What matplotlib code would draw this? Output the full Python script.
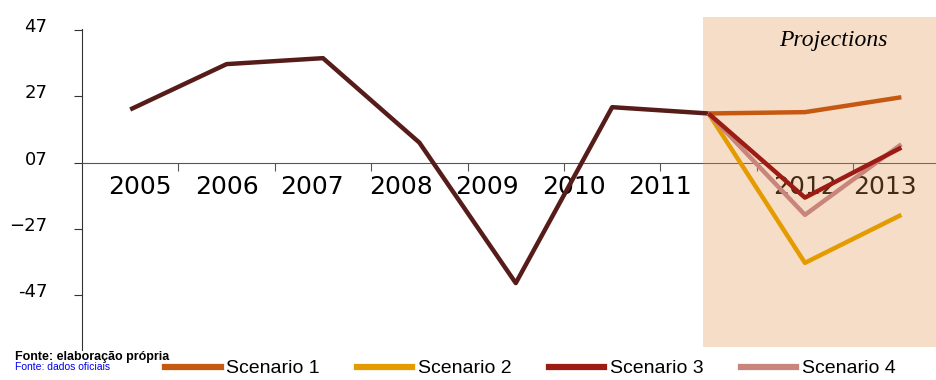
import matplotlib
matplotlib.use("Agg")
import matplotlib.pyplot as plt
import matplotlib.transforms as mtransforms
from matplotlib.patches import Rectangle

# ---------------------------------------------------------------------------
# Data
# ---------------------------------------------------------------------------
years = ["2005", "2006", "2007", "2008", "2009", "2010", "2011", "2012", "2013"]
history = [1.6, 2.97, 3.15, 0.6, -3.64, 1.67, 1.48]          # 2005..2011
scenario_names = ["Scenario 1", "Scenario 2", "Scenario 3", "Scenario 4"]
scenario_1 = [1.48, 1.52, 1.97]                               # 2011..2013
scenario_2 = [1.48, -3.03, -1.58]
scenario_3 = [1.48, -1.06, 0.45]
scenario_4 = [1.48, -1.58, 0.55]
ytick_values = [4, 2, 0, -2, -4]
ytick_labels = ["47", "27", "07", "\u221227", "-47"]

# layout: where the (oddly spaced) year labels sit, in category units
year_label_x = [0.10, 1.00, 1.89, 2.81, 3.70, 4.60, 5.50, 7.00, 7.83]

hist_color = "#561C1A"
scen_colors = ["#C65911", "#E39B00", "#9C1C14", "#C7857C"]
shade_color = "#E4914A"

fig = plt.figure(figsize=(9.37, 3.80), dpi=100)
ax = fig.add_axes([82 / 937, 1 - 350 / 380, (937 - 82) / 937, 321 / 380])

x_hist = list(range(len(history)))
x_scen = list(range(len(history) - 1, len(years)))

lw = 3.2
ax.plot(x_hist, history, color=hist_color, lw=lw, zorder=5, solid_capstyle="butt")
scen_series = [scenario_1, scenario_2, scenario_4, scenario_3]
scen_order_colors = [scen_colors[0], scen_colors[1], scen_colors[3], scen_colors[2]]
for vals, col in zip(scen_series, scen_order_colors):
    ax.plot(x_scen, vals, color=col, lw=lw, zorder=5, solid_capstyle="butt")

ax.set_xlim(-0.5, 8.37)
ax.set_ylim(-5.66, 4.03)

# projection shade (semi-transparent over axis line / labels, under lines)
trans = mtransforms.blended_transform_factory(ax.transData, ax.transAxes)
ax.add_patch(Rectangle((5.94, 0.009), 8.37 - 5.94, 1.037 - 0.009,
                       transform=trans, facecolor=shade_color, alpha=0.3,
                       edgecolor="none", clip_on=False, zorder=4))
ax.text(7.29, 3.67, "Projections", family="Liberation Serif", style="italic",
        fontsize=17, ha="center", va="center", zorder=6)

# axes styling
for side in ("top", "right"):
    ax.spines[side].set_visible(False)
ax.spines["bottom"].set_position(("data", 0))
ax.spines["bottom"].set_color("#555555")
ax.spines["left"].set_color("#333333")
ax.set_xticks([i + 0.5 for i in range(len(years) - 1)])
ax.set_xticklabels([])
ax.tick_params(axis="x", direction="out", length=6, color="#555555")
ax.set_yticks(ytick_values)
ax.set_yticklabels(ytick_labels, family="DejaVu Sans", fontsize=13)
ax.tick_params(axis="y", direction="out", length=6, pad=19, color="#333333")
shift = mtransforms.ScaledTranslation(0, 5 / 100, fig.dpi_scale_trans)
for lab in ax.get_yticklabels():
    lab.set_transform(lab.get_transform() + shift)

for xpos, yr in zip(year_label_x, years):
    ax.text(xpos, -0.74, yr, ha="center", va="center", fontsize=18,
            family="DejaVu Sans", zorder=3)

# legend
handles = [plt.Line2D([], [], color=c, lw=4.5) for c in scen_colors]
fig.legend(handles, scenario_names, loc="center", bbox_to_anchor=(0.566, 0.03),
           ncol=4, frameon=False, handlelength=2.85, handletextpad=0.3,
           columnspacing=1.9, prop={"family": "Liberation Sans", "size": 14})

# garbled source note in the lower-left corner
fig.text(15 / 937, 1 - 357 / 380, "Fonte: elaboração própria", fontsize=9,
         family="Liberation Sans", weight="bold", va="center", ha="left")
fig.text(15 / 937, 1 - 367 / 380, "Fonte: dados oficiais", fontsize=7.5,
         family="Liberation Sans", color="#0000EE", va="center", ha="left")

fig.savefig("out.png", dpi=100)
